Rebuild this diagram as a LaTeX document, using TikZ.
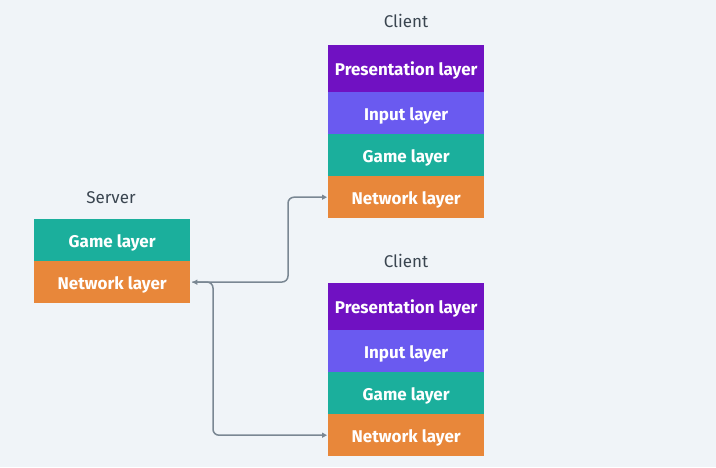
\documentclass[tikz,border=0pt]{standalone}
\usepackage{fontspec}
\setmainfont{Fira Sans}
\usetikzlibrary{arrows.meta}
\definecolor{bg}{HTML}{F0F4F8}
\definecolor{pres}{HTML}{7011C2}
\definecolor{inp}{HTML}{6A5AF0}
\definecolor{game}{HTML}{1BAF9C}
\definecolor{net}{HTML}{E8873A}
\definecolor{wire}{HTML}{7A8793}
\definecolor{lbl}{HTML}{3A4550}
\tikzset{
  layer/.style={minimum width=156pt, inner sep=0pt, text=white, font=\fontsize{17}{20}\selectfont\bfseries, anchor=north west, text height=14.5pt, text depth=0pt},
  thin/.style={layer, minimum height=42pt},
  tall/.style={layer, minimum height=47pt},
  title/.style={text=lbl, font=\fontsize{17}{20}\selectfont},
  wirestyle/.style={draw=wire, line width=1.5pt, rounded corners=6pt},
  tip/.style={-{Triangle[length=5pt,width=5pt]}}
}
\begin{document}
\begin{tikzpicture}[x=1pt,y=-1pt]
\fill[bg] (0,0) rectangle (716,467);
\useasboundingbox (0,0) rectangle (716,467);
% client 1
\node[title] (c1t) at (406,21) {Client};
\node[tall, fill=pres] (c1p) at (328,45) {Presentation layer};
\node[thin, fill=inp] (c1i) at (328,92) {Input layer};
\node[thin, fill=game] (c1g) at (328,134) {Game layer};
\node[thin, fill=net] (c1n) at (328,176) {Network layer};
% client 2
\node[title] (c2t) at (406,261) {Client};
\node[tall, fill=pres] (c2p) at (328,283) {Presentation layer};
\node[thin, fill=inp] (c2i) at (328,330) {Input layer};
\node[thin, fill=game] (c2g) at (328,372) {Game layer};
\node[thin, fill=net] (c2n) at (328,414) {Network layer};
% server
\node[title] (st) at (111,198) {Server};
\node[thin, fill=game] (sg) at (34,219) {Game layer};
\node[thin, fill=net] (sn) at (34,261) {Network layer};
% connectors
\coordinate (j1) at (288,282);
\coordinate (j2) at (213,282);
\draw[wirestyle, {Triangle[length=5pt,width=5pt]}-{Triangle[length=5pt,width=5pt]}, shorten <=2pt, shorten >=1pt] (sn.east) -- (j1) |- (c1n.west);
\draw[wirestyle, tip, shorten <=2pt, shorten >=1pt] (sn.east) -- (j2) |- (c2n.west);
\end{tikzpicture}
\end{document}
